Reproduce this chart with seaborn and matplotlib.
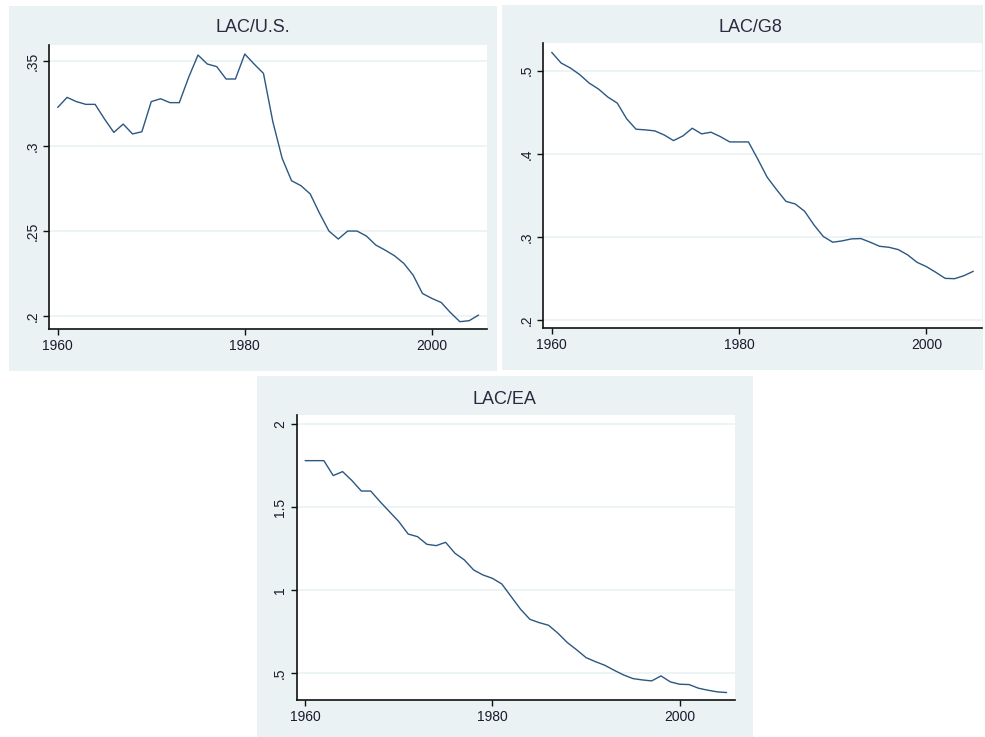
import matplotlib
matplotlib.use("Agg")
import matplotlib.pyplot as plt
import seaborn as sns
import pandas as pd
from matplotlib.patches import Rectangle

# data
years = list(range(1960, 2006))

lac_us = [0.3227, 0.3286, 0.3261, 0.3245, 0.3245, 0.3159, 0.3080, 0.3129, 0.3071, 0.3084,
          0.3261, 0.3278, 0.3255, 0.3255, 0.3404, 0.3535, 0.3482, 0.3467, 0.3394, 0.3394,
          0.3541, 0.3482, 0.3427, 0.3143, 0.2927, 0.2796, 0.2767, 0.2718, 0.2604, 0.2500,
          0.2453, 0.2500, 0.2500, 0.2471, 0.2418, 0.2388, 0.2355, 0.2310, 0.2241, 0.2133,
          0.2104, 0.2080, 0.2020, 0.1967, 0.1973, 0.2006]

lac_g8 = [0.5221, 0.5093, 0.5032, 0.4952, 0.4851, 0.4779, 0.4682, 0.4610, 0.4421, 0.4296,
          0.4288, 0.4276, 0.4227, 0.4159, 0.4215, 0.4308, 0.4240, 0.4260, 0.4207, 0.4143,
          0.4143, 0.4143, 0.3935, 0.3718, 0.3569, 0.3428, 0.3396, 0.3308, 0.3143, 0.3004,
          0.2936, 0.2952, 0.2976, 0.2980, 0.2936, 0.2887, 0.2875, 0.2847, 0.2783, 0.2694,
          0.2642, 0.2574, 0.2501, 0.2497, 0.2533, 0.2586]

lac_ea = [1.781, 1.781, 1.781, 1.691, 1.715, 1.661, 1.598, 1.598, 1.534, 1.474,
          1.414, 1.339, 1.323, 1.277, 1.269, 1.289, 1.223, 1.183, 1.122, 1.092,
          1.072, 1.038, 0.962, 0.886, 0.825, 0.805, 0.789, 0.741, 0.685, 0.641,
          0.594, 0.570, 0.548, 0.518, 0.490, 0.468, 0.460, 0.454, 0.484, 0.448,
          0.434, 0.432, 0.410, 0.398, 0.388, 0.384]

titles = ["LAC/U.S.", "LAC/G8", "LAC/EA"]
series = [lac_us, lac_g8, lac_ea]
yticks = [[0.2, 0.25, 0.3, 0.35], [0.2, 0.3, 0.4, 0.5], [0.5, 1, 1.5, 2]]
yticklabels = [[".2", ".25", ".3", ".35"], [".2", ".3", ".4", ".5"], [".5", "1", "1.5", "2"]]
ylims = [(0.1924, 0.3594), (0.190, 0.533), (0.339, 2.056)]
xticks = [1960, 1980, 2000]

sns.set_style("white")
plt.rcParams["font.family"] = ["Liberation Sans", "DejaVu Sans"]

W, H = 985, 737
fig = plt.figure(figsize=(W / 100, H / 100), dpi=100)

bg = "#eaf2f3"
line_col = "#2b5782"

# panel boxes (pixels): left, top, right, bottom
panels = [(8.5, 5.5, 497, 371), (502, 5, 983, 370), (256.7, 376, 752.7, 737)]
plots = [(49.3, 45, 487, 329), (543.3, 43.3, 981.7, 328.3), (296.7, 415, 735, 700)]
title_pos = [(253, 27), (750, 27), (504, 399)]

for i in range(3):
    l, t, r, b = panels[i]
    fig.patches.append(Rectangle((l / W, 1 - b / H), (r - l) / W, (b - t) / H,
                                 transform=fig.transFigure, facecolor=bg,
                                 edgecolor="none", zorder=-5))
    l, t, r, b = plots[i]
    ax = fig.add_axes([l / W, 1 - b / H, (r - l) / W, (b - t) / H])
    ax.set_facecolor("white")
    df = pd.DataFrame({"year": years, "value": series[i]})
    sns.lineplot(data=df, x="year", y="value", ax=ax, color=line_col, linewidth=1.0)
    ax.set_xlim(1959.1, 2005.9)
    ax.set_ylim(*ylims[i])
    ax.set_xticks(xticks)
    ax.set_xticklabels([str(x) for x in xticks])
    ax.set_yticks(yticks[i])
    ax.set_yticklabels(yticklabels[i], rotation=90, va="center")
    ax.set_xlabel("")
    ax.set_ylabel("")
    ax.grid(axis="y", color=bg, linewidth=1.2)
    ax.grid(axis="x", visible=False)
    for s in ["top", "right"]:
        ax.spines[s].set_visible(False)
    for s in ["left", "bottom"]:
        ax.spines[s].set_color("#111111")
        ax.spines[s].set_linewidth(1.2)
    ax.tick_params(axis="both", which="major", length=4, width=1, color="#111111",
                   labelsize=10, labelcolor="#1a1a2e", pad=3, bottom=True, left=True)
    tx, ty = title_pos[i]
    fig.text(tx / W, 1 - ty / H, titles[i], ha="center", va="center",
             fontsize=13, color="#2a2a40")

fig.savefig("out.png", dpi=100, facecolor="white")
